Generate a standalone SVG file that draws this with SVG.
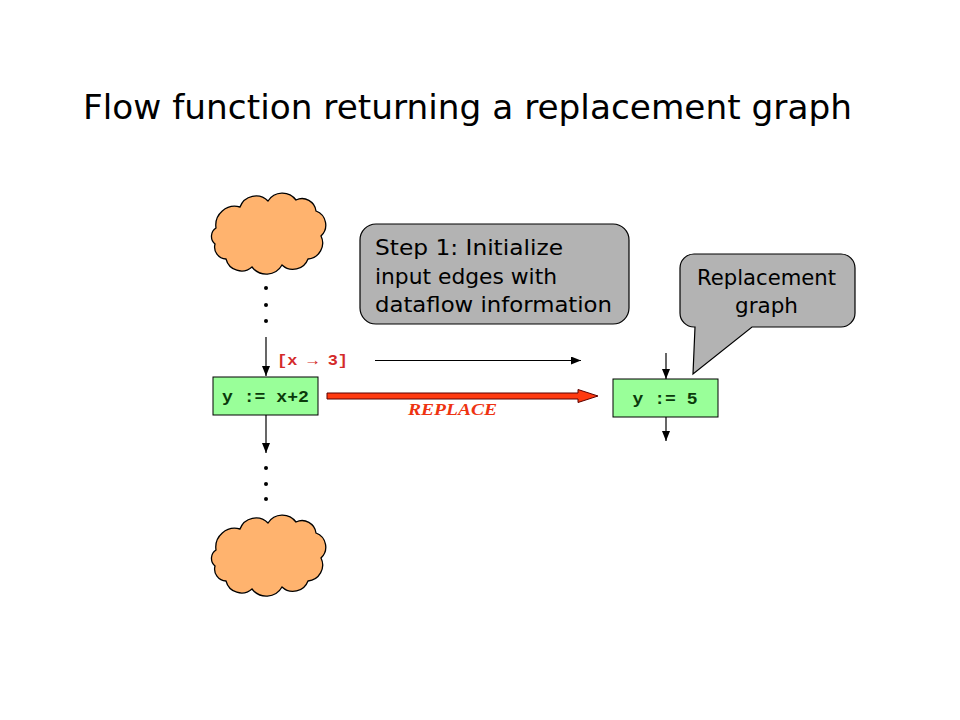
<svg xmlns="http://www.w3.org/2000/svg" width="960" height="720" viewBox="0 0 960 720">
<style>
.title{font-family:"DejaVu Sans","Liberation Sans",sans-serif;font-size:34px;fill:#000}
.call{font-family:"DejaVu Sans","Liberation Sans",sans-serif;font-size:21px;fill:#000}
.code{font-family:"Liberation Mono","DejaVu Sans Mono",monospace;font-size:17px;font-weight:bold;fill:#0b3a0b}
.lab{font-family:"Liberation Mono","DejaVu Sans Mono",monospace;font-size:15px;font-weight:bold;fill:#d42a2a}
.rep{font-family:"Liberation Serif",serif;font-size:16px;font-weight:bold;font-style:italic;fill:#ee3311}
.box{fill:#99ff99;stroke:#000;stroke-width:1}
.cloud{fill:#ffb36e;stroke:#000;stroke-width:1.3}
.bubble{fill:#b3b3b3;stroke:#000;stroke-width:1.2}
.edge{stroke:#000;stroke-width:1.2;fill:none}
.dot{fill:#000}
</style>
<defs>
<marker id="ah" markerWidth="10" markerHeight="8" refX="10" refY="4" orient="auto" markerUnits="userSpaceOnUse">
<path d="M0,0 L10,4 L0,8 Z" fill="#000"/>
</marker>
<path id="cloudShape" d="M216,228 A19,19 0 0 1 240,207 A17,17 0 0 1 268,201 A17,17 0 0 1 296,200 A14,14 0 0 1 316,211 A15,15 0 0 1 321,236 A16,16 0 0 1 308,259 A16,16 0 0 1 282,265 A18,18 0 0 1 252,267 A16,16 0 0 1 226,259 A12,12 0 0 1 215,244 A10,10 0 0 1 216,228 Z"/>
</defs>

<text class="title" x="83" y="119" textLength="769" lengthAdjust="spacingAndGlyphs">Flow function returning a replacement graph</text>

<g id="cloud-top"><use href="#cloudShape" class="cloud"/></g>
<g id="cloud-bottom"><use href="#cloudShape" class="cloud" transform="translate(0,322)"/></g>

<g id="dots-top">
<circle class="dot" cx="266" cy="288" r="2"/><circle class="dot" cx="266" cy="305" r="2"/><circle class="dot" cx="266" cy="321" r="2"/>
</g>
<g id="dots-bottom">
<circle class="dot" cx="266" cy="468" r="2"/><circle class="dot" cx="266" cy="484" r="2"/><circle class="dot" cx="266" cy="499" r="2"/>
</g>

<g id="callout-step1">
<rect class="bubble" x="360" y="224" width="269" height="100" rx="16" ry="16"/>
<text class="call" x="375" y="255" textLength="188" lengthAdjust="spacingAndGlyphs">Step 1: Initialize</text>
<text class="call" x="375" y="284" textLength="182" lengthAdjust="spacingAndGlyphs">input edges with</text>
<text class="call" x="375" y="312" textLength="237" lengthAdjust="spacingAndGlyphs">dataflow information</text>
</g>

<g id="callout-replacement">
<path class="bubble" d="M694,254 H841 A14,14 0 0 1 855,268 V313 A14,14 0 0 1 841,327 H752 L693,374 L695,327 H694 A14,14 0 0 1 680,313 V268 A14,14 0 0 1 694,254 Z"/>
<text class="call" x="766.5" y="285" text-anchor="middle" textLength="139" lengthAdjust="spacingAndGlyphs">Replacement</text>
<text class="call" x="766.5" y="313" text-anchor="middle" textLength="63" lengthAdjust="spacingAndGlyphs">graph</text>
</g>

<g id="node-orig">
<rect class="box" x="213" y="377" width="105" height="38"/>
<text class="code" x="265.5" y="402" text-anchor="middle" textLength="87" lengthAdjust="spacingAndGlyphs">y := x+2</text>
</g>

<g id="node-repl">
<rect class="box" x="613" y="379" width="105" height="38"/>
<text class="code" x="665" y="404" text-anchor="middle" textLength="65" lengthAdjust="spacingAndGlyphs">y := 5</text>
</g>

<g id="connectors">
<line class="edge" x1="266" y1="337" x2="266" y2="376" marker-end="url(#ah)"/>
<line class="edge" x1="266" y1="415" x2="266" y2="453" marker-end="url(#ah)"/>
<line class="edge" x1="375" y1="360.5" x2="581" y2="360.5" marker-end="url(#ah)"/>
<line class="edge" x1="666" y1="353" x2="666" y2="379" marker-end="url(#ah)"/>
<line class="edge" x1="666" y1="417" x2="666" y2="441" marker-end="url(#ah)"/>
<polygon points="327,393 578,393 578,389.5 598,396 578,402.5 578,399 327,399" fill="#ff3a10" stroke="#5a0000" stroke-width="1"/>
<text class="lab" x="277" y="365" textLength="71" lengthAdjust="spacingAndGlyphs">[x → 3]</text>
<text class="rep" x="408" y="415" textLength="89" lengthAdjust="spacingAndGlyphs">REPLACE</text>
</g>
</svg>
